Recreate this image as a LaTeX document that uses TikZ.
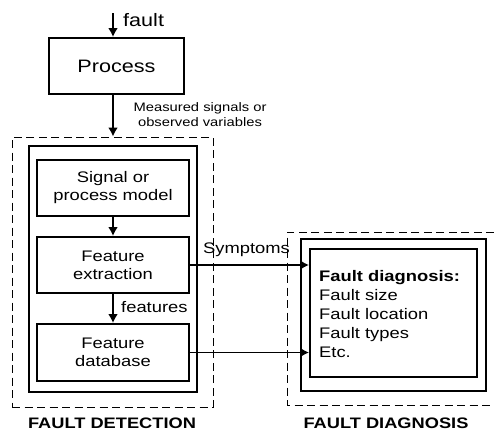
\documentclass[tikz,border=0pt]{standalone}
\usepackage{fontspec}
\setmainfont[FakeStretch=1.2]{Liberation Sans}
\usetikzlibrary{arrows.meta,calc}
\begin{document}
\begin{tikzpicture}[x=1pt,y=-1pt,
  box/.style={draw,line width=2pt,inner sep=0pt,align=center,font=\fontsize{15.3}{18}\selectfont},
  frame/.style={draw,line width=2pt},
  dashframe/.style={draw,line width=1pt,dash pattern=on 8pt off 4.5pt},
  arr/.style={line width=1.8pt,-{Latex[length=9pt,width=10pt]}},
  lbl/.style={inner sep=0pt,font=\fontsize{15.3}{18}\selectfont},
  ttl/.style={inner sep=0pt,font=\fontsize{15.2}{18}\selectfont\bfseries}]
\useasboundingbox (0,0) rectangle (494,431);
% left group
\node[dashframe,minimum width=201pt,minimum height=270pt,inner sep=0pt] (det) at (112.5,272) {};
\node[frame,minimum width=168pt,minimum height=246pt,inner sep=0pt] (detin) at (113,269) {};
\node[box,minimum width=152pt,minimum height=56pt] (sig) at (113,188) {Signal or\\process model};
\node[box,minimum width=152pt,minimum height=56pt] (fe) at (113,265) {Feature\\extraction};
\node[box,minimum width=152pt,minimum height=57pt] (db) at (113,352.5) {Feature\\database};
% process
\node[box,minimum width=135pt,minimum height=56pt,font=\fontsize{18}{20}\selectfont] (proc) at (116.5,66) {Process};
\coordinate (ftop) at (113,13);
\node[lbl,anchor=west,font=\fontsize{18}{20}\selectfont] (flbl) at (123,20) {fault};
\node[inner sep=0pt,align=center,font=\fontsize{12.3}{15}\selectfont] (meas) at (200,114.5) {Measured signals or\\observed variables};
% right group
\draw[dashframe] (494,232) -- (287,232) -- (287,405) -- (494,405);
\node[frame,minimum width=185pt,minimum height=152pt,inner sep=0pt] (diagout) at (393.5,315) {};
\node[frame,minimum width=167pt,minimum height=128pt,inner sep=0pt] (diag) at (393.5,313) {};
\node[inner sep=0pt,anchor=west,align=left,font=\fontsize{15.3}{19}\selectfont] (diagtxt) at (319,314) {\textbf{Fault diagnosis:}\\Fault size\\Fault location\\Fault types\\Etc.};
% connectors
\draw[arr] (ftop) -- (ftop |- proc.north);
\draw[arr] (sig.north |- proc.south) -- (sig.north |- det.north);
\draw[arr] (sig.south) -- (fe.north);
\draw[arr] (fe.south) -- (db.north);
\draw[arr] (fe.east) -- (fe.east -| diag.west);
\draw[arr] (db.east) -- (db.east -| diag.west);
\node[lbl,anchor=west] (featlbl) at (121,307) {features};
\node[lbl,anchor=west] (symlbl) at (203,250) {Symptoms};
\node[ttl] (t1) at (112,423) {FAULT DETECTION};
\node[ttl] (t2) at (386,423) {FAULT DIAGNOSIS};
\end{tikzpicture}
\end{document}
